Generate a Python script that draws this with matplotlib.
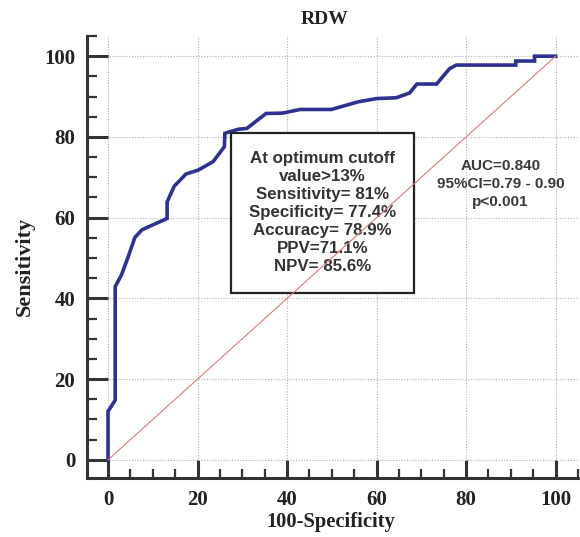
import matplotlib
matplotlib.use("Agg")
import matplotlib.pyplot as plt
from matplotlib.patches import Rectangle
from matplotlib.ticker import MultipleLocator

# ROC curve values (100-Specificity, Sensitivity)
fpr = [0, 0, 1.6, 1.6, 3.0, 4.5, 6.0, 7.6, 13.2, 13.2, 14.8, 17.4, 20.2, 23.5,
       26.0, 26.1, 29.1, 31.0, 35.3, 39.0, 42.9, 49.9, 55.9, 60.0, 64.4, 67.4,
       69.0, 73.4, 76.3, 77.8, 91.1, 91.1, 95.3, 95.3, 100]
tpr = [0, 12.0, 14.8, 42.9, 45.8, 50.3, 55.1, 57.0, 59.8, 63.9, 67.8, 70.8,
       71.8, 73.9, 77.6, 80.9, 81.9, 82.1, 85.8, 85.9, 86.8, 86.8, 88.7, 89.5,
       89.7, 90.9, 93.1, 93.1, 96.9, 97.8, 97.8, 98.8, 98.8, 100, 100]
ref_line = [0, 100]
ticks = [0, 20, 40, 60, 80, 100]

title = "RDW"
xlabel = "100-Specificity"
ylabel = "Sensitivity"
box_lines = ["At optimum cutoff", "value>13%", "Sensitivity= 81%",
             "Specificity= 77.4%", "Accuracy= 78.9%", "PPV=71.1%", "NPV= 85.6%"]
auc_lines = ["AUC=0.840", "95%CI=0.79 - 0.90", "p<0.001"]

W, H = 580, 537
fig = plt.figure(figsize=(W / 100, H / 100), dpi=100)
ax = fig.add_axes([87 / W, 1 - 478 / H, (578 - 87) / W, (478 - 36) / H])

ax.set_xlim(-4.7, 105)
ax.set_ylim(-4.5, 105)

ax.grid(True, which="major", ls=(0, (1, 1.5)), color="#b0b0b0", lw=0.8, zorder=0)
ax.set_axisbelow(True)

ax.plot(fpr, tpr, color="#2e3192", lw=2.6, zorder=4, solid_joinstyle="miter")
ax.plot(ref_line, ref_line, color="#d97a7a", lw=0.8, zorder=6)

# info box
ax.add_patch(Rectangle((27.5, 41.3), 40.8, 39.6, facecolor="white",
                       edgecolor="#222222", lw=1.6, zorder=5))
ax.text(47.9, 61.2, "\n".join(box_lines), ha="center", va="center",
        fontsize=12.2, fontweight="bold", family="Liberation Sans",
        color="#333333", linespacing=1.25, zorder=5.5)

ax.text(87.7, 68.3, "\n".join(auc_lines), ha="center", va="center",
        fontsize=11, fontweight="bold", family="Liberation Sans",
        color="#3a3a3a", linespacing=1.38, zorder=5.5)

for s in ["top", "right"]:
    ax.spines[s].set_visible(False)
for s in ["left", "bottom"]:
    ax.spines[s].set_linewidth(2.2)
    ax.spines[s].set_color("#333333")

ax.set_xticks(ticks)
ax.set_yticks(ticks)
ax.xaxis.set_minor_locator(MultipleLocator(5))
ax.yaxis.set_minor_locator(MultipleLocator(5))
ax.tick_params(axis="y", which="major", direction="in", length=15, width=2.2,
               color="#333333", pad=8.5)
ax.tick_params(axis="y", which="minor", direction="in", length=7.5, width=1.6,
               color="#333333")
ax.tick_params(axis="x", which="major", direction="in", length=13, width=2.2,
               color="#333333", pad=8.5)
ax.tick_params(axis="x", which="minor", direction="in", length=6.5, width=1.6,
               color="#333333")
for lab in ax.get_xticklabels() + ax.get_yticklabels():
    lab.set_fontfamily("Liberation Serif")
    lab.set_fontweight("bold")
    lab.set_fontsize(15)
    lab.set_color("#222222")

fig.text(325 / W, 1 - 19 / H, title, ha="center", va="center",
         fontsize=14, fontweight="bold", family="Liberation Serif", color="#222222")
fig.text(331 / W, 1 - 522 / H, xlabel, ha="center", va="center",
         fontsize=14.8, fontweight="bold", family="Liberation Serif", color="#222222")
fig.text(25 / W, 1 - 266 / H, ylabel, ha="center", va="center", rotation=90,
         fontsize=16, fontweight="bold", family="Liberation Serif", color="#222222")

fig.savefig("out.png", dpi=100)
